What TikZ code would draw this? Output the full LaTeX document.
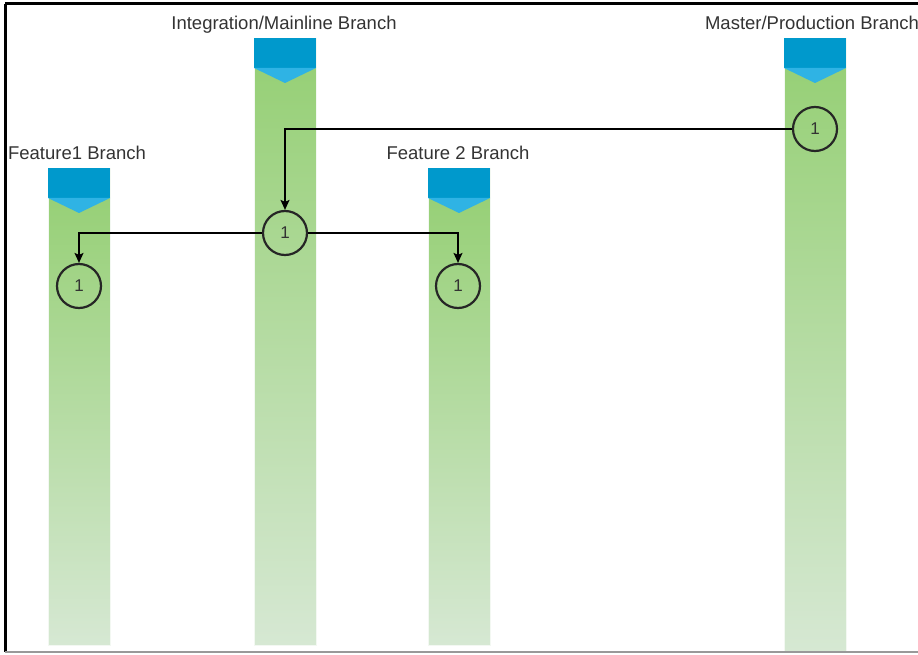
\documentclass[tikz,border=0pt]{standalone}
\usepackage{fontspec}
\setsansfont{Liberation Sans}
\usetikzlibrary{arrows.meta, positioning}

\definecolor{hdrDark}{HTML}{0099CC}
\definecolor{hdrLight}{HTML}{2FB3E4}
\definecolor{barTop}{HTML}{97D077}
\definecolor{barBot}{HTML}{D6E8D3}
\definecolor{numGray}{HTML}{333333}

\begin{document}
\begin{tikzpicture}[
    x=1pt, y=-1pt,
    font=\sffamily,
    % Label Style
    branchLabel/.style={
        anchor=base, font=\sffamily\fontsize{18.5}{19}\selectfont, text=black!80, inner sep=0pt
    },
    % Commit Style
    commit/.style={
        circle, draw=black!85, line width=2.2pt, minimum size=44pt, inner sep=0pt,
        font=\sffamily\fontsize{17}{17}\selectfont, text=numGray
    },
    % Arrow Style
    myArrow/.style={-{Stealth[length=10pt, width=9pt, inset=2pt]}, line width=1.3pt, draw=black}
]
    \useasboundingbox (0,0) rectangle (918,655);

    % --- BRANCH BARS ---
    \foreach \name/\cx/\top/\bot in {feat1/79/168/645, integ/285/38/645, feat2/459/168/645, master/815/38/652} {
        \shade[top color=barTop, bottom color=barBot]
            (\cx-31,\top+30) rectangle (\cx+31,\bot);
        \draw[white!70!barBot, line width=0.6pt] (\cx-31,\top) rectangle (\cx+31,\bot);
        \fill[hdrDark] (\cx-31,\top) rectangle (\cx+31,\top+30);
        \fill[hdrLight] (\cx-31,\top+30) -- (\cx+31,\top+30) -- (\cx,\top+45) -- cycle;
        \coordinate (\name) at (\cx,\top);
    }

    % --- LABELS ---
    \node[branchLabel] (lblFeat1) at (77,160) {Feature1 Branch};
    \node[branchLabel] (lblInteg) at (284,30) {Integration/Mainline Branch};
    \node[branchLabel] (lblFeat2) at (458,160) {Feature 2 Branch};
    \node[branchLabel] (lblMaster) at (812,30) {Master/Production Branch};

    % --- COMMITS ---
    \node[commit] (cMaster) at (815,129) {1};
    \node[commit] (cInteg) at (285,233) {1};
    \node[commit] (cFeat1) at (79,286) {1};
    \node[commit] (cFeat2) at (458,286) {1};

    % --- ARROWS ---
    \draw[myArrow] (cMaster.west) -| (cInteg.north);
    \draw[myArrow] (cInteg.west) -| (cFeat1.north);
    \draw[myArrow] (cInteg.east) -| (cFeat2.north);

    % --- FRAME ---
    \draw[black, line width=3pt] (5,4) -- (918,4);
    \draw[black, line width=3pt] (5,4) -- (5,652);
    \draw[black!40, line width=2pt] (5,652) -- (918,652);

\end{tikzpicture}
\end{document}
